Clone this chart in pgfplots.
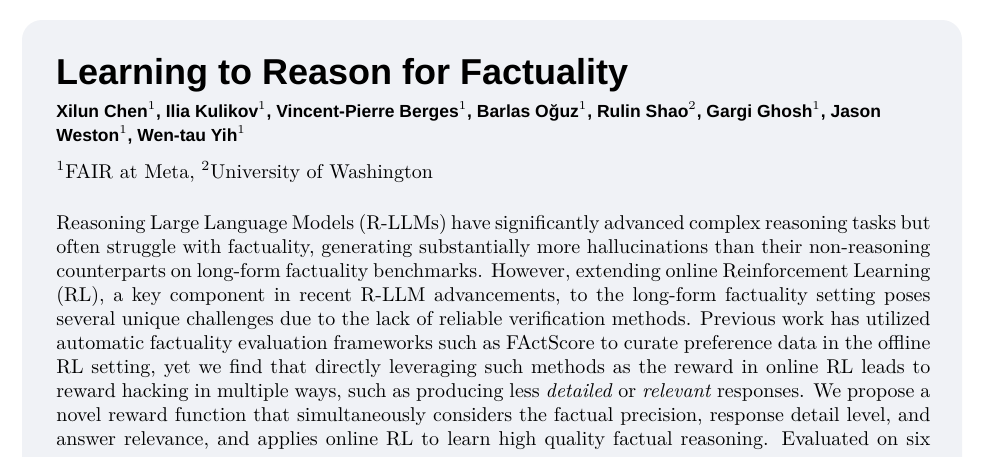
\documentclass[border=0pt]{standalone}
\usepackage{fontspec}
\setmainfont{Latin Modern Roman}
\newfontfamily\hfont{Liberation Sans}
\usepackage{pgfplots}
\pgfplotsset{compat=1.18}
\definecolor{bg}{HTML}{F0F2F6}
\begin{document}
\begin{tikzpicture}[x=1pt,y=1pt]
\clip (0,0) rectangle (492,-228);
\fill[white] (0,0) rectangle (492,-228);
\fill[bg, rounded corners=10pt] (11,-10) rectangle (481,-260);
\begin{axis}[hide axis, scale only axis, width=5pt, height=5pt, at={(20,-220)}, xmin=0,xmax=1,ymin=0,ymax=1]
\addplot[draw=none] coordinates {(0,0) (1,1)};
\end{axis}
\node[anchor=base west, inner sep=0pt] at (28,-42) {\hfont\fontsize{18}{22}\selectfont\bfseries Learning to Reason for Factuality};
\node[anchor=base west, inner sep=0pt] at (28,-58.5) {\hfont\fontsize{8.75}{10}\selectfont\bfseries Xilun Chen$^1$, Ilia Kulikov$^1$, Vincent-Pierre Berges$^1$, Barlas Oğuz$^1$, Rulin Shao$^2$, Gargi Ghosh$^1$, Jason};
\node[anchor=base west, inner sep=0pt] at (28,-70.5) {\hfont\fontsize{8.75}{10}\selectfont\bfseries Weston$^1$, Wen-tau Yih$^1$};
\node[anchor=base west, inner sep=0pt] at (28,-89) {\fontsize{10}{12}\selectfont $^1$FAIR at Meta, $^2$University of Washington};
\foreach \t [count=\i from 0] in {
{Reasoning Large Language Models (R-LLMs) have significantly advanced complex reasoning tasks but},
{often struggle with factuality, generating substantially more hallucinations than their non-reasoning},
{counterparts on long-form factuality benchmarks. However, extending online Reinforcement Learning},
{(RL), a key component in recent R-LLM advancements, to the long-form factuality setting poses},
{several unique challenges due to the lack of reliable verification methods. Previous work has utilized},
{automatic factuality evaluation frameworks such as FActScore to curate preference data in the offline},
{RL setting, yet we find that directly leveraging such methods as the reward in online RL leads to},
{reward hacking in multiple ways, such as producing less \textit{detailed} or \textit{relevant} responses. We propose a},
{novel reward function that simultaneously considers the factual precision, response detail level, and},
{answer relevance, and applies online RL to learn high quality factual reasoning. Evaluated on six}}
{\node[anchor=base west, inner sep=0pt] at (28,{-114.5-12*\i}) {\fontsize{10}{12}\selectfont\makebox[437pt][s]{\t}};}
\end{tikzpicture}
\end{document}
